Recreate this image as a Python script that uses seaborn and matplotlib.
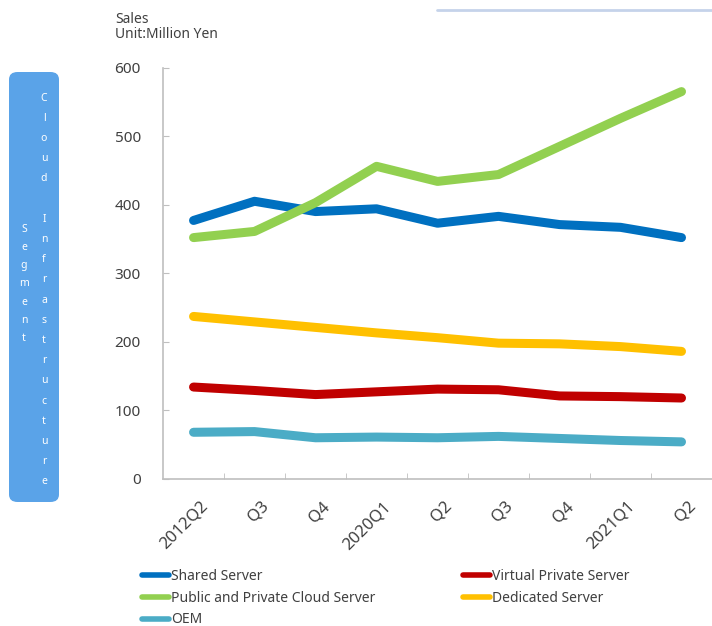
import numpy as np
import pandas as pd
import seaborn as sns
import matplotlib.pyplot as plt
import matplotlib.transforms as mtransforms
from matplotlib.patches import FancyBboxPatch
from matplotlib.lines import Line2D

# quarters on the x axis
quarters = ["2012Q2", "Q3", "Q4", "2020Q1", "Q2", "Q3", "Q4", "2021Q1", "Q2"]

shared_server = [377, 405, 390, 394, 373, 383, 371, 367, 352]
cloud_server = [352, 361, 403, 456, 434, 444, 485, 526, 565]
dedicated_server = [237, 229, 221, 213, 206, 198, 197, 193, 186]
vps = [134, 129, 123, 127, 131, 130, 121, 120, 118]
oem = [68, 69, 60, 61, 60, 62, 59, 56, 54]

series = {
    "Shared Server": shared_server,
    "Public and Private Cloud Server": cloud_server,
    "OEM": oem,
    "Virtual Private Server": vps,
    "Dedicated Server": dedicated_server,
}
colors = {
    "Shared Server": "#0070c0",
    "Public and Private Cloud Server": "#92d050",
    "OEM": "#4bacc6",
    "Virtual Private Server": "#c00000",
    "Dedicated Server": "#ffc000",
}

# long format table
rows = []
for name, vals in series.items():
    for i, v in enumerate(vals):
        rows.append({"pos": i, "series": name, "sales": v})
df = pd.DataFrame(rows)

sns.set_style("white")
plt.rcParams["font.family"] = ["Noto Sans", "DejaVu Sans"]
text_col = "#404040"

fig = plt.figure(figsize=(7.12, 6.26), dpi=100)
ax = fig.add_axes([0.229, 0.235, 0.771, 0.657])

sns.lineplot(
    data=df, x="pos", y="sales", hue="series",
    hue_order=list(series.keys()), palette=colors,
    linewidth=6.5, sort=False, ax=ax, legend=False,
    solid_capstyle="round", solid_joinstyle="round",
)

ax.set_ylim(0, 600)
ax.set_xlim(-0.5, len(quarters) - 0.5)
ax.set_yticks(range(0, 601, 100))
ax.set_xticks(range(len(quarters)))
ax.set_xticklabels(quarters, rotation=45, ha="right", rotation_mode="anchor")
ax.set_xticks(np.arange(0.5, len(quarters) - 0.5, 1), minor=True)
ax.tick_params(axis="x", which="major", length=0, pad=14, labelsize=12, labelcolor=text_col)
ax.tick_params(axis="x", which="minor", length=4, direction="in", color="#bfbfbf", bottom=True)
ax.tick_params(axis="y", length=4, direction="in", color="#bfbfbf", pad=16,
               labelsize=11, labelcolor=text_col, left=True)
shift = mtransforms.ScaledTranslation(6 / 100, 0, fig.dpi_scale_trans)
for lbl in ax.get_xticklabels():
    lbl.set_transform(lbl.get_transform() + shift)
ax.set_xlabel("")
ax.set_ylabel("")
for side in ["top", "right"]:
    ax.spines[side].set_visible(False)
for side in ["left", "bottom"]:
    ax.spines[side].set_color("#bfbfbf")
    ax.spines[side].set_linewidth(1.2)

# unit text
fig.text(115 / 712, 1 - 12 / 626, "Sales\nUnit:Million Yen", fontsize=10,
         color=text_col, va="top", ha="left", linespacing=1.0)

# decorative line at top right
fig.add_artist(Line2D([437 / 712, 1.0], [1 - 10 / 626, 1 - 10 / 626],
                      color="#c5d3ea", linewidth=2, transform=fig.transFigure))

# side label box
box = FancyBboxPatch((9 / 712, 1 - 502 / 626), 50 / 712, 430 / 626,
                     boxstyle="round,pad=0,rounding_size=0.012",
                     transform=fig.transFigure, facecolor="#5aa3e8",
                     edgecolor="none")
fig.add_artist(box)
col1 = "\n".join(list("Cloud") + [" "] + list("Infrastructure"))
col2 = "\n".join(list("Segment"))
fig.text(44 / 712, 1 - 290 / 626, col1, color="white", fontsize=7.5,
         ha="center", va="center", linespacing=2.15)
fig.text(24 / 712, 1 - 284 / 626, col2, color="white", fontsize=7.5,
         ha="center", va="center", linespacing=1.88)

# legend
handles = [Line2D([0], [0], color=colors[n], linewidth=4, solid_capstyle="round")
           for n in series]
fig.legend(handles, list(series.keys()), loc="upper left",
           bbox_to_anchor=(136 / 712, 1 - 563 / 626), ncol=2, frameon=False,
           fontsize=10, labelcolor=text_col, handlelength=2.0, handletextpad=0.1,
           columnspacing=6.3, labelspacing=0.5, borderaxespad=0)

fig.savefig("out.png", dpi=100)
